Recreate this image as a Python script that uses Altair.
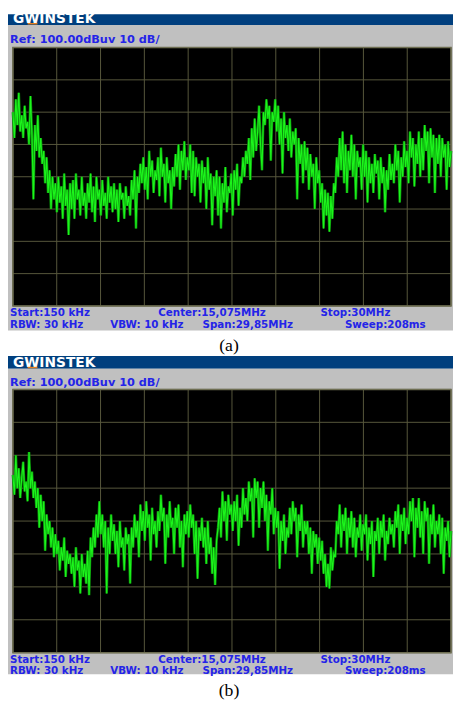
import altair as alt
import pandas as pd

# ---------------- data ----------------
F_START, F_STOP = 0.15, 30.0   # MHz (Start / Stop of the sweep)

# trace (a), dBuV, evenly spaced over the sweep
LEVEL_A = [
    80, 72, 84, 76, 86, 74, 79, 72, 82, 75,
    77, 70, 85, 73, 53, 76, 68, 79, 66, 72,
    64, 68, 58, 66, 55, 62, 50, 60, 53, 58,
    49, 60, 52, 57, 47, 61, 51, 56, 42, 58,
    50, 59, 47, 61, 53, 56, 48, 60, 51, 55,
    47, 58, 52, 61, 49, 57, 46, 60, 53, 56,
    48, 59, 51, 55, 47, 60, 52, 57, 49, 58,
    50, 56, 46, 58, 53, 55, 47, 57, 51, 54,
    48, 59, 53, 62, 44, 60, 55, 64, 58, 66,
    56, 63, 53, 68, 60, 65, 55, 62, 59, 66,
    54, 69, 60, 64, 52, 66, 58, 62, 50, 63,
    57, 67, 60, 70, 56, 68, 62, 71, 59, 66,
    62, 70, 55, 68, 54, 66, 60, 64, 52, 65,
    58, 63, 50, 66, 56, 61, 45, 60, 54, 62,
    48, 60, 44, 58, 52, 63, 49, 57, 55, 61,
    48, 62, 56, 64, 51, 60, 58, 66, 60, 68,
    64, 72, 59, 75, 66, 78, 68, 74, 82, 70,
    62, 80, 76, 84, 78, 82, 65, 80, 77, 84,
    74, 82, 70, 78, 61, 80, 72, 76, 68, 78,
    66, 74, 70, 75, 53, 72, 64, 70, 58, 71,
    62, 69, 56, 67, 60, 64, 50, 66, 58, 62,
    52, 58, 44, 56, 48, 55, 43, 54, 47, 58,
    55, 66, 60, 72, 62, 74, 58, 70, 55, 68,
    62, 73, 60, 70, 53, 68, 63, 66, 56, 70,
    60, 68, 52, 66, 58, 64, 55, 67, 61, 65,
    53, 66, 58, 63, 49, 62, 56, 67, 59, 64,
    58, 70, 62, 68, 52, 66, 60, 71, 63, 68,
    58, 74, 66, 72, 57, 70, 64, 74, 60, 72,
    62, 76, 68, 74, 58, 75, 66, 73, 55, 72,
    64, 73, 60, 72, 66, 70, 56, 71, 63, 68,
]

# trace (b), dBuV
LEVEL_B = [
    74, 68, 80, 70, 76, 67, 73, 78, 69, 72,
    66, 81, 70, 75, 67, 72, 64, 70, 58, 68,
    60, 66, 51, 62, 56, 60, 52, 58, 49, 56,
    50, 54, 45, 52, 48, 55, 43, 51, 47, 50,
    44, 49, 40, 52, 45, 48, 38, 50, 43, 47,
    41, 51, 37.5, 55, 49, 58, 52, 62, 55, 66,
    56, 62, 52, 60, 38, 58, 50, 62, 54, 59,
    50, 57, 46, 60, 52, 55, 45, 58, 53, 56,
    41, 58, 52, 62, 55, 60, 49, 65, 57, 63,
    54, 66, 58, 62, 48, 64, 56, 60, 52, 63,
    57, 68, 60, 64, 47, 62, 55, 66, 58, 61,
    50, 64, 58, 65, 52, 60, 46, 62, 56, 63,
    55, 65, 58, 62, 50, 60, 42.5, 58, 54, 61,
    52, 58, 47, 60, 50, 55, 44, 52, 40.6, 54,
    58, 64, 55, 69, 60, 66, 54, 68, 62, 65,
    57, 66, 60, 68, 52.5, 64, 58, 70, 62, 67,
    60, 72, 66, 70, 55, 73, 67, 72, 58, 70,
    64, 72, 60, 68, 51, 66, 62, 70, 56, 64,
    58, 63, 45.5, 60, 54, 62, 50, 58, 55, 64,
    56, 66, 60, 64, 49, 62, 57, 65, 52, 60,
    56, 60, 50, 58, 44, 57, 52, 56, 47, 55,
    48, 54, 44, 50, 40, 47, 39.5, 52, 45, 50,
    49, 60, 56, 65, 52, 62, 57, 64, 50, 61,
    55, 63, 52, 61, 49, 58, 55, 62, 51, 59,
    56, 62, 48, 58, 53, 60, 43, 57, 54, 61,
    50, 60, 55, 62, 48, 57, 53, 61, 56, 59,
    52, 63, 58, 65, 50, 62, 57, 64, 53, 61,
    56, 66, 60, 67, 49, 64, 58, 67, 55, 63,
    50, 66, 60, 64, 47, 62, 56, 65, 52, 60,
    56, 62, 50, 61, 44, 58, 54, 60, 49, 57,
]

X_TICKS = [0.15, 3.135, 6.12, 9.105, 12.09, 15.075, 18.06, 21.045, 24.03, 27.015, 30.0]
Y_TICKS = [20, 30, 40, 50, 60, 70, 80, 90, 100]
L_MIN, L_MAX = 20, 100

LOGO = "GWINSTEK"
REF_A = "Ref:  100.00dBuv  10 dB/"
REF_B = "Ref:  100,00dBuv  10 dB/"
START = "Start:150 kHz"
CENTER = "Center:15,075MHz"
STOP = "Stop:30MHz"
RBW = "RBW: 30 kHz"
VBW = "VBW: 10 kHz"
SPAN = "Span:29,85MHz"
SWEEP = "Sweep:208ms"
CAP_A = "(a)"
CAP_B = "(b)"


def sweep(levels):
    n = len(levels)
    f = [F_START + i * (F_STOP - F_START) / (n - 1) for i in range(n)]
    return pd.DataFrame({"f": f, "lvl": levels})


trace_a = sweep(LEVEL_A)
trace_b = sweep(LEVEL_B)
vgrid = pd.DataFrame({"f": X_TICKS, "lo": L_MIN, "hi": L_MAX})
hgrid = pd.DataFrame({"lvl": Y_TICKS, "f0": F_START, "f1": F_STOP})
box = pd.DataFrame({"f0": [F_START], "f1": [F_STOP], "lo": [L_MIN], "hi": [L_MAX]})

# ---------------- styles ----------------
BLUE_TXT = "#2424e8"
HEADER = "#003f7e"
GREY = "#c0c0c0"
GRID = "#58583c"
FRAME = "#6e6e52"
GREEN = "#1cf51c"
DARK_GREEN = "#0b8f0b"
FONT = "DejaVu Sans"
TXT_SIZE = 10.5

xs = alt.Scale(domain=[F_START, F_STOP], range=[5, 451], nice=False, zero=False)


def label(txt, x, y, size=TXT_SIZE, color=BLUE_TXT, font=FONT, weight="bold", align="left",
          baseline="alphabetic"):
    return alt.Chart().mark_text(text=txt, font=font, fontWeight=weight, fontSize=size,
                                 color=color, align=align, baseline=baseline).encode(
        x=alt.value(x), y=alt.value(y))


def panel(top, ref_text, trace, y_rng):
    """top = chart y of header top; y_rng = (bottom, top) of plot area in px"""
    ys = alt.Scale(domain=[L_MIN, L_MAX], range=list(y_rng), nice=False, zero=False)
    layers = []
    layers.append(alt.Chart().mark_rect(color=HEADER).encode(
        x=alt.value(0), x2=alt.value(453), y=alt.value(max(top, 0)), y2=alt.value(top + 13)))
    layers.append(alt.Chart().mark_rect(color=GREY).encode(
        x=alt.value(0), x2=alt.value(453), y=alt.value(top + 13), y2=alt.value(top + 324)))
    layers.append(label(LOGO, 5, top + 11.5, size=14, color="white"))
    layers.append(alt.Chart().mark_rect(color="#e8801e").encode(
        x=alt.value(20), x2=alt.value(30), y=alt.value(top + 11), y2=alt.value(top + 12.5)))
    layers.append(label(ref_text, 2, top + 31, size=11.5))
    layers.append(alt.Chart(box).mark_rect(color="black").encode(
        x=alt.X("f0:Q", scale=xs, axis=None), x2="f1:Q",
        y=alt.Y("lo:Q", scale=ys, axis=None), y2="hi:Q"))
    layers.append(alt.Chart(vgrid).mark_rule(color=GRID, strokeWidth=1).encode(
        x=alt.X("f:Q", scale=xs, axis=None),
        y=alt.Y("lo:Q", scale=ys, axis=None), y2="hi:Q"))
    layers.append(alt.Chart(hgrid).mark_rule(color=GRID, strokeWidth=1).encode(
        y=alt.Y("lvl:Q", scale=ys, axis=None),
        x=alt.X("f0:Q", scale=xs, axis=None), x2="f1:Q"))
    layers.append(alt.Chart(box).mark_rect(fill=None, stroke=FRAME, strokeWidth=1.5).encode(
        x=alt.X("f0:Q", scale=xs, axis=None), x2="f1:Q",
        y=alt.Y("lo:Q", scale=ys, axis=None), y2="hi:Q"))
    # dim phosphor glow under the bright trace
    layers.append(alt.Chart(trace).mark_line(color=DARK_GREEN, strokeWidth=2.6, interpolate="linear").encode(
        x=alt.X("f:Q", scale=xs, axis=None),
        y=alt.Y("lvl:Q", scale=ys, axis=None)))
    layers.append(alt.Chart(trace).mark_line(color=GREEN, strokeWidth=1.1, interpolate="linear").encode(
        x=alt.X("f:Q", scale=xs, axis=None),
        y=alt.Y("lvl:Q", scale=ys, axis=None)))
    b1 = y_rng[0] + 10
    b2 = y_rng[0] + 22
    for txt, x, yy in [(START, 2, b1), (CENTER, 153, b1), (STOP, 318, b1),
                       (RBW, 2, b2), (VBW, 104, b2), (SPAN, 198, b2), (SWEEP, 343, b2)]:
        layers.append(label(txt, x, yy))
    return layers


layers = []
layers += panel(-2, REF_A, trace_a, (297, 34))
layers.append(label(CAP_A, 225, 338, size=18, color="black", font="Liberation Serif",
                    weight="normal", align="center", baseline="middle"))
layers += panel(348, REF_B, trace_b, (650, 382))
layers.append(label(CAP_B, 225, 689, size=18, color="black", font="Liberation Serif",
                    weight="normal", align="center", baseline="middle"))

chart = alt.layer(*layers).resolve_scale(x="independent", y="independent").properties(
    width=453, height=698, autosize=alt.AutoSizeParams(type="none"), padding=0,
    background="white",
).configure_view(stroke=None)

chart.save("out.html", embed_options={"renderer": "svg", "actions": False})
